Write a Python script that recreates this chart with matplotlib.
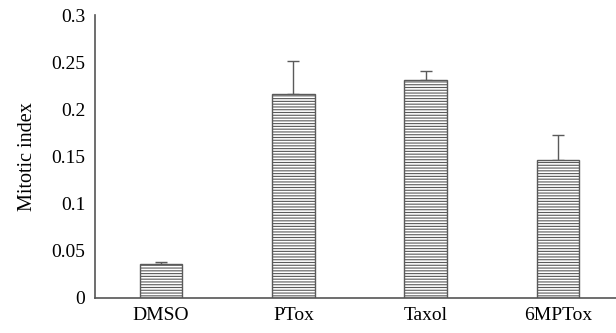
import numpy as np
import matplotlib.pyplot as plt

# data
categories = ['DMSO', 'PTox', 'Taxol', '6MPTox']
mitotic_index = [0.0355, 0.216, 0.231, 0.146]
errors = [0.0025, 0.035, 0.009, 0.027]
yticks = [0, 0.05, 0.1, 0.15, 0.2, 0.25, 0.3]
ytick_labels = ['0', '0.05', '0.1', '0.15', '0.2', '0.25', '0.3']

plt.rcParams['font.family'] = ['Liberation Serif', 'DejaVu Serif']
plt.rcParams['hatch.color'] = '#c4c4c4'
plt.rcParams['hatch.linewidth'] = 0.8

fig = plt.figure(figsize=(6.16, 3.33), dpi=100)
ax = fig.add_axes([95 / 616, 35.5 / 333, 521 / 616, 282.5 / 333])

x = np.arange(len(categories))
ax.bar(x, mitotic_index, width=0.32, color='white', edgecolor='#5a5a5a',
       linewidth=1.0, hatch='------', zorder=2)
ax.errorbar(x, mitotic_index, yerr=[np.zeros(len(errors)), errors], fmt='none',
            ecolor='#5a5a5a', elinewidth=1.0, capsize=4, capthick=1.0, zorder=1)

ax.set_xlim(-0.5, 3.44)
ax.set_ylim(0, 0.3)
ax.set_xticks(x)
ax.set_xticklabels(categories, fontsize=14)
ax.set_yticks(yticks)
ax.set_yticklabels(ytick_labels, fontsize=14)
ax.tick_params(axis='both', length=0, pad=7)
ax.set_ylabel('Mitotic index', fontsize=14.5, labelpad=10)

for side in ['top', 'right']:
    ax.spines[side].set_visible(False)
for side in ['left', 'bottom']:
    ax.spines[side].set_color('#555555')
    ax.spines[side].set_linewidth(1.2)

fig.savefig('out.png', dpi=100)
